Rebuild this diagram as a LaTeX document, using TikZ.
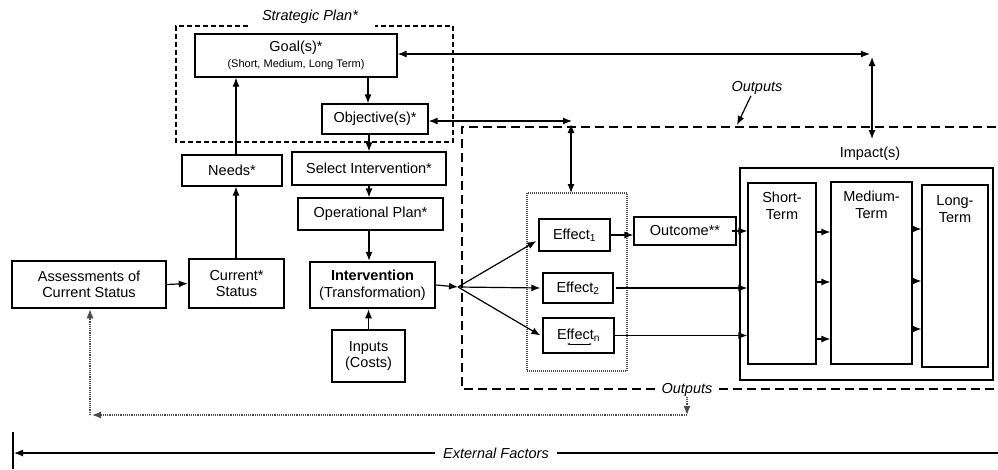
\documentclass[tikz,border=0pt]{standalone}
\usepackage{fontspec}
\setmainfont{Liberation Sans}
\usetikzlibrary{arrows.meta}
\begin{document}
\begin{tikzpicture}[x=1pt,y=-1pt,
  every node/.style={font=\fontsize{14.5}{16.5}\selectfont, inner sep=0pt, align=center},
  tbox/.style={draw, line width=1.2pt},
  hbox/.style={draw, line width=2.5pt},
  arr/.style={line width=1.2pt, -{Latex[length=9pt,width=7pt]}},
  darr/.style={line width=1.2pt, {Latex[length=9pt,width=7pt]}-{Latex[length=9pt,width=7pt]}},
  lab/.style={font=\fontsize{14.5}{16}\selectfont\itshape},
  spdash/.style={line width=1.1pt, dash pattern=on 5pt off 3pt},
  outdash/.style={line width=2.4pt, dash pattern=on 9pt off 5pt},
  fb/.style={line width=1.2pt, densely dotted, black!70},
  fbarr/.style={fb, -{Latex[length=9pt,width=7pt]}}
]
\useasboundingbox (0,0) rectangle (998,469);

% Strategic plan frame
\node[lab] (splab) at (310,17) {Strategic Plan*};
\draw[spdash] (248,26) -- (176,26) -- (176,142) -- (453,142) -- (453,26) -- (375,26);

% left column nodes
\node[tbox, minimum width=202pt, minimum height=43pt] (goal) at (296,55.5)
  {Goal(s)*\\{\fontsize{11}{14}\selectfont (Short, Medium, Long Term)}};
\node[tbox, minimum width=106pt, minimum height=30pt] (obj) at (375,119) {Objective(s)*};
\node[tbox, minimum width=100pt, minimum height=31pt] (needs) at (232,170.5) {Needs*};
\node[tbox, minimum width=154pt, minimum height=33pt] (sel) at (369,168.5) {Select Intervention*};
\node[tbox, minimum width=145pt, minimum height=32pt] (oper) at (370.5,214) {Operational Plan*};
\node[hbox, minimum width=125pt, minimum height=46pt] (interv) at (372.5,285)
  {\textbf{Intervention}\\(Transformation)};
\node[hbox, minimum width=73pt, minimum height=52pt] (inputs) at (368.5,356) {Inputs\\(Costs)};
\node[hbox, minimum width=154pt, minimum height=47pt] (assess) at (89,284.5)
  {Assessments of\\Current Status};
\node[hbox, minimum width=95pt, minimum height=49pt] (curr) at (236.5,283.5) {Current*\\Status};

% connectors left part
\draw[arr] (goal.south -| 368,0) -- (obj.north -| 368,0);
\draw[arr] (obj.south -| sel.north) -- (sel.north);
\draw[arr] (sel.south -| 369,0) -- (oper.north -| 369,0);
\draw[arr] (oper.south -| 369,0) -- (interv.north -| 369,0);
\draw[arr] (inputs.north) -- (inputs.north |- interv.south);
\draw[arr] (curr.north -| 236,0) -- (needs.south -| 236,0);
\draw[arr] (needs.north -| 236,0) -- (goal.south -| 236,0);
\draw[arr] (assess.east) -- (curr.west);

% Outputs frame
\node[lab] (outlab1) at (757,88) {Outputs};
\node[lab] (outlab2) at (687,390) {Outputs};
\draw[outdash] (outlab2.west) ++(-6,-1) -- (462,389) -- (462,127) -- (998,127);
\draw[outdash] (outlab2.east) ++(6,-1) -- (998,389);
\draw[arr] (outlab1.south) ++(-6,1) -- (737,125);

% Effects
\draw[line width=1.8pt, black!70, dash pattern=on 1pt off 1pt] (527,193) rectangle (627,371);
\coordinate (effbox) at (571,193);
\node[tbox, minimum width=71pt, minimum height=32pt] (e1) at (574.5,235) {Effect\textsubscript{1}};
\node[tbox, minimum width=70pt, minimum height=30pt] (e2) at (578,288) {Effect\textsubscript{2}};
\node[tbox, minimum width=71pt, minimum height=35pt] (en) at (578.5,335.5) {\raisebox{2pt}{Effect\textsubscript{n}}};
\draw[line width=0.6pt, {Latex[length=2.5pt,width=2pt]}-{Latex[length=2.5pt,width=2pt]}]
  ([shift={(-11.5,8.5)}]en.center) -- ([shift={(13.5,8.5)}]en.center);
\node[tbox, minimum width=102pt, minimum height=28pt] (outc) at (685,231) {Outcome**};

% Impacts
\node[tbox, minimum width=253pt, minimum height=212pt] (imp) at (866.5,274) {};
\node (impl) at (870,154) {Impact(s)};
\node[tbox, minimum width=68pt, minimum height=181pt] (st) at (782,273.5) {};
\node[tbox, minimum width=81pt, minimum height=182pt] (mt) at (871.5,273) {};
\node[tbox, minimum width=66pt, minimum height=182pt] (lt) at (955,276) {};
\node (stl) at (782,206) {Short-\\Term};
\node (mtl) at (871.5,205) {Medium-\\Term};
\node (ltl) at (955,209) {Long-\\Term};

% double arrows on top
\coordinate (gc) at (870,54);
\draw[darr] (goal.east |- gc) -- (gc);
\draw[darr] (872,57) -- (872,139);
\coordinate (oc) at (572,121);
\draw[darr] (obj.east |- oc) -- (oc);
\draw[darr] (571,124) -- (effbox);

% fan
\coordinate (fan) at (458,287);
\draw[arr] (interv.east) -- (fan);
\draw[arr] (fan) -- ([shift={(-2,6)}]e1.west);
\draw[arr] (fan) -- ([xshift=-2pt]e2.west);
\draw[arr] (fan) -- ([xshift=-2pt]en.west);
\draw[arr] (e1.east) -- (e1.east -| outc.west);
\draw[arr] ([xshift=-5pt]outc.east) -- (st.west |- outc.east);
\draw[arr] ([xshift=2pt]e2.east) -- (st.west |- e2.east);
\draw[arr] (en.east) -- (st.west |- en.east);

% short -> medium -> long
\foreach \yy in {232,282,339} \draw[arr] (st.east |- 0,\yy) -- (mt.west |- 0,\yy);
\foreach \yy in {229,281,329} \draw[arr] (mt.east |- 0,\yy) -- (lt.west |- 0,\yy);

% feedback
\coordinate (fbR) at (687,415);
\coordinate (fbL) at (90,415);
\draw[fbarr] (outlab2.south) -- (fbR);
\draw[fbarr] (fbR) -- ([xshift=2pt]fbL);
\draw[fbarr] (fbL) -- (fbL |- assess.south);

% external factors
\node[lab] (ext) at (496,453) {External Factors};
\draw[line width=1.2pt] (13,432) -- (13,469);
\draw[arr] ([xshift=-8pt]ext.west) -- (14,453);
\draw[line width=1.2pt] ([xshift=8pt]ext.east) -- (998,453);
\end{tikzpicture}
\end{document}
